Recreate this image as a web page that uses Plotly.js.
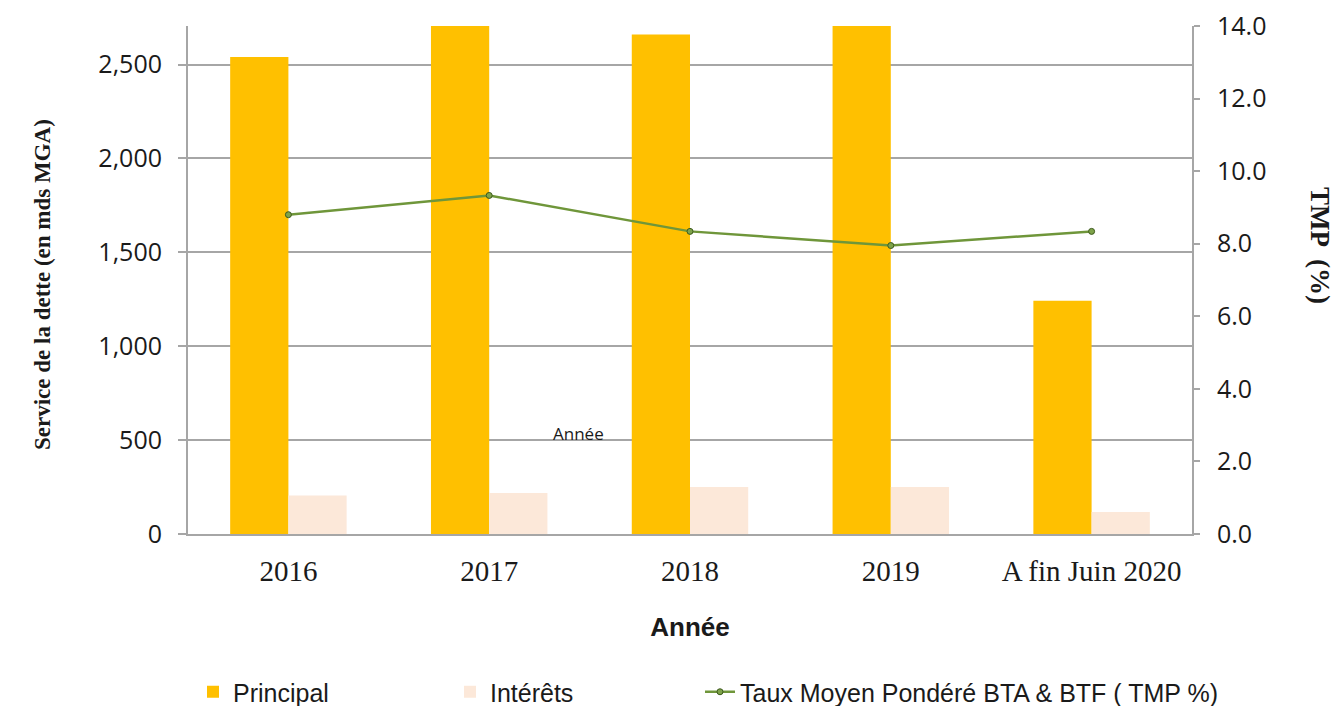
<!DOCTYPE html>
<html>
<head>
<meta charset="utf-8">
<script src="https://cdn.plot.ly/plotly-3.0.1.min.js"></script>
<style>html,body{margin:0;padding:0;background:#fff;}#chart{width:1342px;height:706px;}</style>
</head>
<body>
<div id="chart"></div>
<script>
const categories = ["2016", "2017", "2018", "2019", "A fin Juin 2020"];
const principal = [2540, 2760, 2660, 2750, 1242];
const interets = [205, 218, 250, 250, 117];
const tmp = [8.80, 9.33, 8.34, 7.95, 8.34];
const leftTicks = [0, 500, 1000, 1500, 2000, 2500];
const rightTicks = [0, 2, 4, 6, 8, 10, 12, 14];

const tickFont = {family: "Open Sans, Noto Sans, sans-serif", size: 25, color: "#1a1a1a"};
const legFont = {family: "Liberation Sans, Arial, sans-serif", size: 25, color: "#1a1a1a"};
const px = v => (v - 188) / 1004;
const py = v => (534 - v) / 508;

const data = [
  {type: "bar", name: "Principal", x: categories, y: principal,
   marker: {color: "#ffc000"}, hoverinfo: "y", legend: "legend"},
  {type: "bar", name: "Intérêts", x: categories, y: interets,
   marker: {color: "#fce8d9"}, hoverinfo: "y", legend: "legend2"},
  {type: "scatter", mode: "lines+markers", name: "Taux Moyen Pondéré BTA & BTF ( TMP %)",
   x: categories, y: tmp, yaxis: "y2", legend: "legend3",
   line: {color: "#6f963a", width: 2.5},
   marker: {size: 6, color: "#7ea34a", line: {color: "#3d5a1d", width: 1}}}
];

const legBase = {orientation: "h", xanchor: "left", yanchor: "middle", y: py(692),
                 font: legFont, bgcolor: "rgba(0,0,0,0)"};

const layout = {
  width: 1342, height: 706,
  margin: {l: 188, r: 150, t: 26, b: 172, autoexpand: false},
  paper_bgcolor: "#fff", plot_bgcolor: "#fff",
  barmode: "group", bargap: 0.42, bargroupgap: 0,
  showlegend: true,
  legend: Object.assign({}, legBase, {x: px(193)}),
  legend2: Object.assign({}, legBase, {x: px(450)}),
  legend3: Object.assign({}, legBase, {x: px(700)}),
  xaxis: {type: "category", showgrid: false, zeroline: false,
          showline: true, linecolor: "#a6a6a6", linewidth: 2,
          ticks: "", ticklabelstandoff: 10,
          tickfont: {family: "Liberation Serif, Times New Roman, serif", size: 29, color: "#1a1a1a"},
          title: {text: "<b>Année</b>", standoff: 32,
                  font: {family: "Liberation Sans, Arial, sans-serif", size: 26, color: "#1a1a1a"}}},
  yaxis: {range: [0, 2705], tickvals: leftTicks, ticktext: leftTicks.map(v => v.toLocaleString("en-US")),
          showgrid: true, gridcolor: "#a6a6a6", gridwidth: 1.5,
          zeroline: false, showline: true, linecolor: "#a6a6a6", linewidth: 2,
          ticks: "outside", ticklen: 8, tickcolor: "#a6a6a6", tickwidth: 1.5,
          ticklabelstandoff: 11, tickfont: tickFont},
  yaxis2: {overlaying: "y", side: "right", range: [0, 14], tickvals: rightTicks,
           ticktext: rightTicks.map(v => v.toFixed(1)),
           showgrid: false, zeroline: false, showline: true, linecolor: "#a6a6a6", linewidth: 2,
           ticks: "outside", ticklen: 6, tickcolor: "#a6a6a6", tickwidth: 1.5,
           ticklabelstandoff: 12, tickfont: tickFont},
  annotations: [
    {text: "<b>Service de la dette (en mds MGA)</b>", xref: "paper", yref: "paper",
     x: px(42), y: py(285), xanchor: "center", yanchor: "middle", textangle: -90, showarrow: false,
     font: {family: "Liberation Serif, Times New Roman, serif", size: 23, color: "#1a1a1a"}},
    {text: "<b>TMP  (%)</b>", xref: "paper", yref: "paper",
     x: px(1320), y: py(245), xanchor: "center", yanchor: "middle", textangle: 90, showarrow: false,
     font: {family: "Liberation Serif, Times New Roman, serif", size: 27, color: "#1a1a1a"}},
    {text: "Année", xref: "paper", yref: "paper",
     x: px(578), y: py(433), xanchor: "center", yanchor: "middle", showarrow: false,
     font: {family: "Open Sans, sans-serif", size: 17, color: "#1a1a1a"}}
  ]
};

Plotly.newPlot("chart", data, layout, {displayModeBar: false, responsive: false});
</script>
</body>
</html>
